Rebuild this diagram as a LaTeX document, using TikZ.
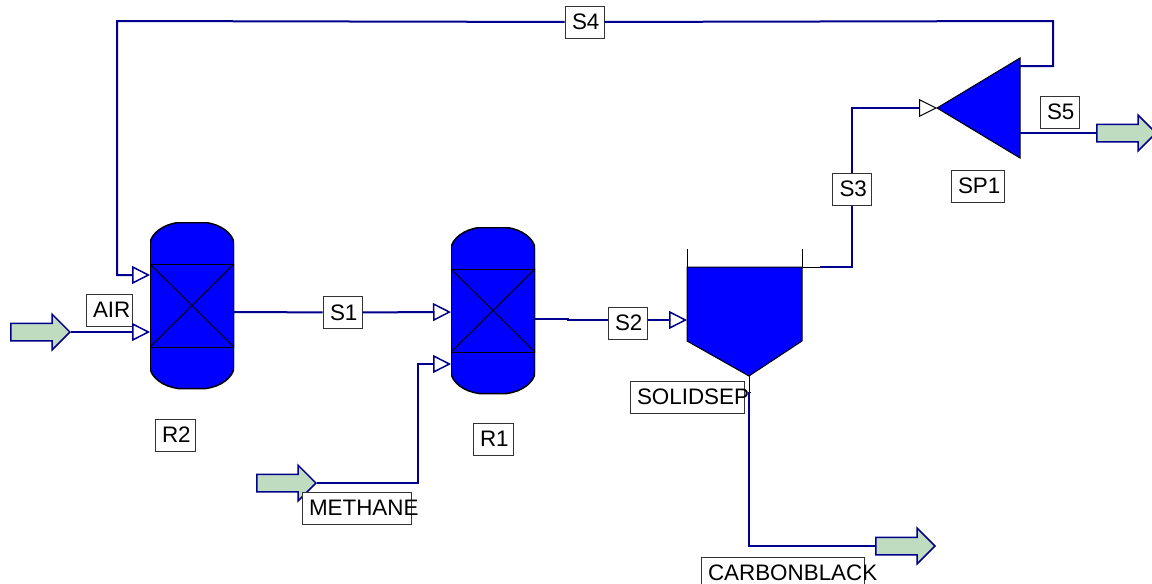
\documentclass[tikz,border=0pt]{standalone}
\usepackage{fontspec}
\setmainfont{Liberation Sans}
\usetikzlibrary{arrows.meta,shapes.arrows}

\definecolor{unitblue}{RGB}{0,0,255}
\definecolor{streamblue}{RGB}{0,0,140}
\definecolor{feedgreen}{RGB}{192,220,192}

\newcommand{\tagtext}[2]{\makebox[#1pt][l]{\hspace{1pt}#2}}

\tikzset{
	unit/.style={draw=black, fill=unitblue, line width=1pt},
	vessel/.style={minimum width=84pt, minimum height=167pt, inner sep=0pt,
		path picture={
			\begin{scope}[shift={(path picture bounding box.center)}]
				\draw[unit, line width=1.5pt] (-42,-62) .. controls (-41,-72) and (-29,-81) .. (-14,-83) -- (14,-83)
					.. controls (29,-81) and (41,-72) .. (42,-62) -- (42,62)
					.. controls (41,72) and (29,81) .. (14,83) -- (-14,83)
					.. controls (-29,81) and (-41,72) .. (-42,62) -- cycle;
				\draw[black, line width=1pt] (-42,-41.5) rectangle (42,41.5);
				\draw[black, line width=1pt] (-42,-41.5) -- (42,41.5);
				\draw[black, line width=1pt] (-42,41.5) -- (42,-41.5);
			\end{scope}
		}},
	feed/.style={single arrow, draw=streamblue, fill=feedgreen, line width=1.5pt, inner sep=8pt,
		single arrow head extend=9pt, minimum height=59pt, anchor=tip},
	tag/.style={draw=black!80, fill=white, line width=1pt, inner xsep=6pt, inner ysep=0pt, minimum height=32pt,
		text=black, font=\fontsize{22.4}{26}\selectfont},
	stream/.style={draw=streamblue, line width=2pt},
}

\begin{document}
\begin{tikzpicture}[x=1pt, y=-1pt, >={Triangle[fill=white, length=18pt, width=18pt, line width=1.5pt]}]
	    
	    \useasboundingbox (0,0) rectangle (1152,584);
	    
	    % Reactors
	    \node[vessel] (R2) at (192,305.5) {};
	    \node[vessel] (R1) at (493,310.5) {};
	    
	    % Solid separator with its open top
	    \draw[unit] (687,267) -- (802,267) -- (802,341) -- (749,376) -- (687,341) -- cycle;
	    \draw[black, line width=1pt] (687,249) -- (687,267);
	    \draw[black, line width=1pt] (802,249) -- (802,267);
	    
	    % Splitter
	    \draw[unit] (937,108) -- (1020,58) -- (1020,158) -- cycle;
	    
	    % Feed and product arrows
	    \node[feed] (AIRfeed) at (71,332) {};
	    \node[feed] (METHANEfeed) at (317,483) {};
	    \node[feed] (BLACKprod) at (936,546) {};
	    \node[feed] (S5prod) at (1157,133) {};
	    
	    % Unit and stream labels
	    \node[tag] (AIR) at (109,310) {\tagtext{34}{AIR}};
	    \node[tag] (R2label) at (175,435) {\tagtext{28}{R2}};
	    \node[tag] (R1label) at (493,439) {\tagtext{28}{R1}};
	    \node[tag] (S1) at (342.5,312.5) {\tagtext{27}{S1}};
	    \node[tag] (S2) at (627.5,323) {\tagtext{27}{S2}};
	    \node[tag] (S3) at (852,189) {\tagtext{27}{S3}};
	    \node[tag] (S4) at (584.5,22) {\tagtext{27}{S4}};
	    \node[tag] (S5) at (1059.5,112) {\tagtext{27}{S5}};
	    \node[tag] (SP1label) at (977.5,186) {\tagtext{41}{SP1}};
	    \node[tag] (METHANE) at (356.5,508) {\tagtext{97}{METHANE}};
	    \node[tag] (SOLIDSEP) at (687,397) {\tagtext{102}{SOLIDSEP}};
	    \node[tag] (CARBONBLACK) at (782.5,573) {\tagtext{151}{CARBONBLACK}};
	    
	    % Ports and corners of the streams
	    \coordinate (R2top) at (150,275);
	    \coordinate (R2low) at (150,332);
	    \coordinate (R2out) at (234,312);
	    \coordinate (R1top) at (451,312);
	    \coordinate (R1low) at (451,364);
	    \coordinate (R1out) at (535,319);
	    \coordinate (S2step) at (568,320);
	    \coordinate (SEPin) at (687,320);
	    \coordinate (SEPtop) at (802,267);
	    \coordinate (SEPstub) at (820,267);
	    \coordinate (SEPbot) at (749,376);
	    \coordinate (SEPtick) at (749,392);
	    \coordinate (SP1in) at (937,108);
	    \coordinate (SP1top) at (1020,66);
	    \coordinate (SP1low) at (1020,133);
	    \coordinate (S3corner) at (852,267);
	    \coordinate (S4right) at (1053,21);
	    \coordinate (S4left) at (117,21);
	    
	    % Air feed
	    \draw[stream, ->] (AIRfeed.tip) -- (R2low);
	    
	    % Methane feed
	    \draw[stream, ->] (METHANEfeed.tip) -| (R1low -| 418,0) |- (R1low);
	    
	    % Reactor train
	    \draw[stream] (R2out) -- (S1);
	    \draw[stream, ->] (S1) -- (R1top);
	    \draw[stream] (R1out) -- (568,319) -- (S2step) -- (S2.west |- S2step);
	    \draw[stream, ->] (S2.east |- SEPin) -- (SEPin);
	    
	    % Separator overhead to the splitter
	    \draw[black, line width=1pt] (SEPtop) -- (SEPstub);
	    \draw[stream] (SEPstub) -- (S3corner) -- (S3);
	    \draw[stream, -{Triangle[black, fill=white, length=18pt, width=18pt, line width=1pt]}] (S3) |- (SP1in);
	    
	    % Recycle
	    \draw[stream] (SP1top) -| (S4right) -- (S4);
	    \draw[stream, ->] (S4) -- (S4left) |- (R2top);
	    
	    % Purge
	    \draw[stream] (SP1low) -- (S5prod.west |- SP1low);
	    
	    % Carbon black product
	    \draw[black, line width=1pt] (SEPbot) -- (SEPtick) -- ++(2,0);
	    \draw[stream] (SEPtick) |- (BLACKprod.west |- 0,546);
	    
	\end{tikzpicture}
\end{document}
